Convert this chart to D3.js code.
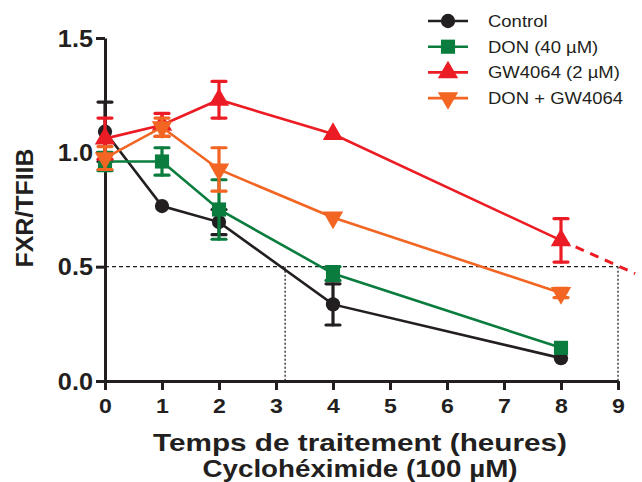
<!DOCTYPE html>
<html lang="fr">
<head>
    <meta charset="UTF-8">
    <title>FXR/TFIIB</title>
    <style>
        body { margin: 0; background: #fff; }
        svg text { font-family: "Liberation Sans", Arial, sans-serif; fill: #231f20; }
        .axis path, .axis line { stroke: #231f20; stroke-width: 3px; }
        .axis text { font-weight: bold; }
        .x.axis text { font-size: 21px; }
        .y.axis text { font-size: 23px; }
        .title { font-size: 24px; font-weight: bold; }
        .legend text { font-size: 16.5px; }
    </style>
</head>
<body>
    <svg width="642" height="482"></svg>

    <script src="https://d3js.org/d3.v7.min.js"></script>
    <script>
        // time points (heures)
        const times = [0, 1, 2, 4, 8];
        const xTicks = [0, 1, 2, 3, 4, 5, 6, 7, 8, 9];
        const yTicks = [0, 0.5, 1.0, 1.5];

        const controlMean = [1.09, 0.765, 0.695, 0.335, 0.10];
        const controlErr  = [0.13, 0, 0.055, 0.09, 0];
        const donMean     = [0.96, 0.96, 0.75, 0.47, 0.145];
        const donErr      = [0.04, 0.06, 0.13, 0.03, 0];
        const gwMean      = [1.06, 1.12, 1.23, 1.08, 0.615];
        const gwErr       = [0.09, 0.05, 0.08, 0, 0.095];
        const comboMean   = [0.975, 1.11, 0.925, 0.715, 0.385];
        const comboErr    = [0.05, 0.04, 0.095, 0, 0.02];

        // extrapolated part of the GW4064 curve (dashed)
        const gwExtraX = [8, 9.3];
        const gwExtraY = [0.615, 0.47];

        // half-life guides
        const halfLevel = 0.5;
        const halfTimes = [3.16, 9];

        const xTitleLines = ["Temps de traitement (heures)", "Cyclohéximide (100 µM)"];

        const series = [
            { name: "Control",       color: "#231f20", symbol: d3.symbolCircle,   size: 160, rot: 0,   mean: controlMean, err: controlErr },
            { name: "DON (40 µM)",   color: "#0a7d3e", symbol: d3.symbolSquare,   size: 200, rot: 0,   mean: donMean,     err: donErr },
            { name: "GW4064 (2 µM)", color: "#ec1c24", symbol: d3.symbolTriangle, size: 180, rot: 0,   mean: gwMean,      err: gwErr },
            { name: "DON + GW4064",  color: "#f26522", symbol: d3.symbolTriangle, size: 180, rot: 180, mean: comboMean,   err: comboErr }
        ];

        const svg = d3.select("svg");
        const x = d3.scaleLinear().domain([0, 9]).range([105, 618]);
        const y = d3.scaleLinear().domain([0, 1.5]).range([381, 38]);

        // the original lettering is a bit wider than Liberation Sans
        function widen(sel, k) {
            sel.each(function () {
                const w = this.getComputedTextLength();
                d3.select(this).attr("textLength", w * k).attr("lengthAdjust", "spacingAndGlyphs");
            });
        }

        // dashed guides
        const guides = svg.append("g")
            .attr("stroke", "#231f20")
            .attr("stroke-width", 1.3)
            .attr("fill", "none");
        guides.append("line")
            .attr("x1", x(0)).attr("x2", x(9))
            .attr("y1", y(halfLevel)).attr("y2", y(halfLevel))
            .attr("stroke-dasharray", "4,3");
        guides.selectAll("line.v")
            .data(halfTimes)
            .enter().append("line")
            .attr("class", "v")
            .attr("x1", d => x(d)).attr("x2", d => x(d))
            .attr("y1", y(halfLevel)).attr("y2", y(0))
            .attr("stroke-dasharray", "2,2");

        // axes
        const xAxis = svg.append("g")
            .attr("class", "x axis")
            .attr("transform", `translate(0,${y(0)})`)
            .call(d3.axisBottom(x).tickValues(xTicks).tickFormat(d3.format("d")).tickSize(9).tickSizeOuter(0).tickPadding(5));
        const yAxis = svg.append("g")
            .attr("class", "y axis")
            .attr("transform", `translate(${x(0)},0)`)
            .call(d3.axisLeft(y).tickValues(yTicks).tickFormat(d3.format(".1f")).tickSize(9).tickSizeOuter(0).tickPadding(3));
        xAxis.selectAll("text").attr("dy", "0.85em");
        yAxis.selectAll("text").attr("dy", "0.36em");
        widen(xAxis.selectAll("text"), 1.1);
        widen(yAxis.selectAll("text"), 1.1);

        // dashed extrapolation
        const line = d3.line().x(d => x(d[0])).y(d => y(d[1]));
        svg.append("path")
            .datum(d3.zip(gwExtraX, gwExtraY))
            .attr("d", line)
            .attr("fill", "none")
            .attr("stroke", "#ec1c24")
            .attr("stroke-width", 3)
            .attr("stroke-dasharray", "9,7");

        series.forEach(s => {
            const pts = times.map((t, i) => ({ t: t, v: s.mean[i], e: s.err[i] }));
            const g = svg.append("g");

            g.append("path")
                .datum(pts.map(p => [p.t, p.v]))
                .attr("d", line)
                .attr("fill", "none")
                .attr("stroke", s.color)
                .attr("stroke-width", 2.6);

            const eb = g.selectAll("g.err")
                .data(pts.filter(p => p.e > 0))
                .enter().append("g")
                .attr("class", "err")
                .attr("stroke", s.color)
                .attr("stroke-width", 3.2)
                .attr("stroke-linecap", "round");
            eb.append("line")
                .attr("x1", d => x(d.t)).attr("x2", d => x(d.t))
                .attr("y1", d => y(d.v - d.e)).attr("y2", d => y(d.v + d.e));
            eb.append("line")
                .attr("x1", d => x(d.t) - 7).attr("x2", d => x(d.t) + 7)
                .attr("y1", d => y(d.v + d.e)).attr("y2", d => y(d.v + d.e));
            eb.append("line")
                .attr("x1", d => x(d.t) - 7).attr("x2", d => x(d.t) + 7)
                .attr("y1", d => y(d.v - d.e)).attr("y2", d => y(d.v - d.e));

            g.selectAll("path.mark")
                .data(pts)
                .enter().append("path")
                .attr("class", "mark")
                .attr("d", d3.symbol().type(s.symbol).size(s.size))
                .attr("transform", d => `translate(${x(d.t)},${y(d.v)}) rotate(${s.rot})`)
                .attr("fill", s.color);
        });

        // titles
        svg.append("text")
            .attr("class", "title")
            .attr("transform", `translate(33,208) rotate(-90)`)
            .attr("text-anchor", "middle")
            .attr("textLength", 119)
            .attr("lengthAdjust", "spacingAndGlyphs")
            .text("FXR/TFIIB");
        svg.selectAll("text.xtitle")
            .data(xTitleLines)
            .enter().append("text")
            .attr("class", "title xtitle")
            .attr("x", 360)
            .attr("y", (d, i) => 451 + i * 26)
            .attr("text-anchor", "middle")
            .attr("textLength", (d, i) => i === 0 ? 414 : 315)
            .attr("lengthAdjust", "spacingAndGlyphs")
            .text(d => d);

        // legend
        const legend = svg.append("g")
            .attr("class", "legend")
            .selectAll("g")
            .data(series)
            .enter().append("g")
            .attr("transform", (d, i) => `translate(428,${21 + i * 25.7})`);
        legend.append("line")
            .attr("x1", 0).attr("x2", 40)
            .attr("stroke", d => d.color)
            .attr("stroke-width", 2.6);
        legend.append("path")
            .attr("d", d => d3.symbol().type(d.symbol).size(d.size)())
            .attr("transform", d => `translate(20,0) rotate(${d.rot})`)
            .attr("fill", d => d.color);
        const legendText = legend.append("text")
            .attr("x", 60)
            .attr("dy", "0.36em")
            .text(d => d.name);
        widen(legendText, 1.12);
    </script>
</body>
</html>
